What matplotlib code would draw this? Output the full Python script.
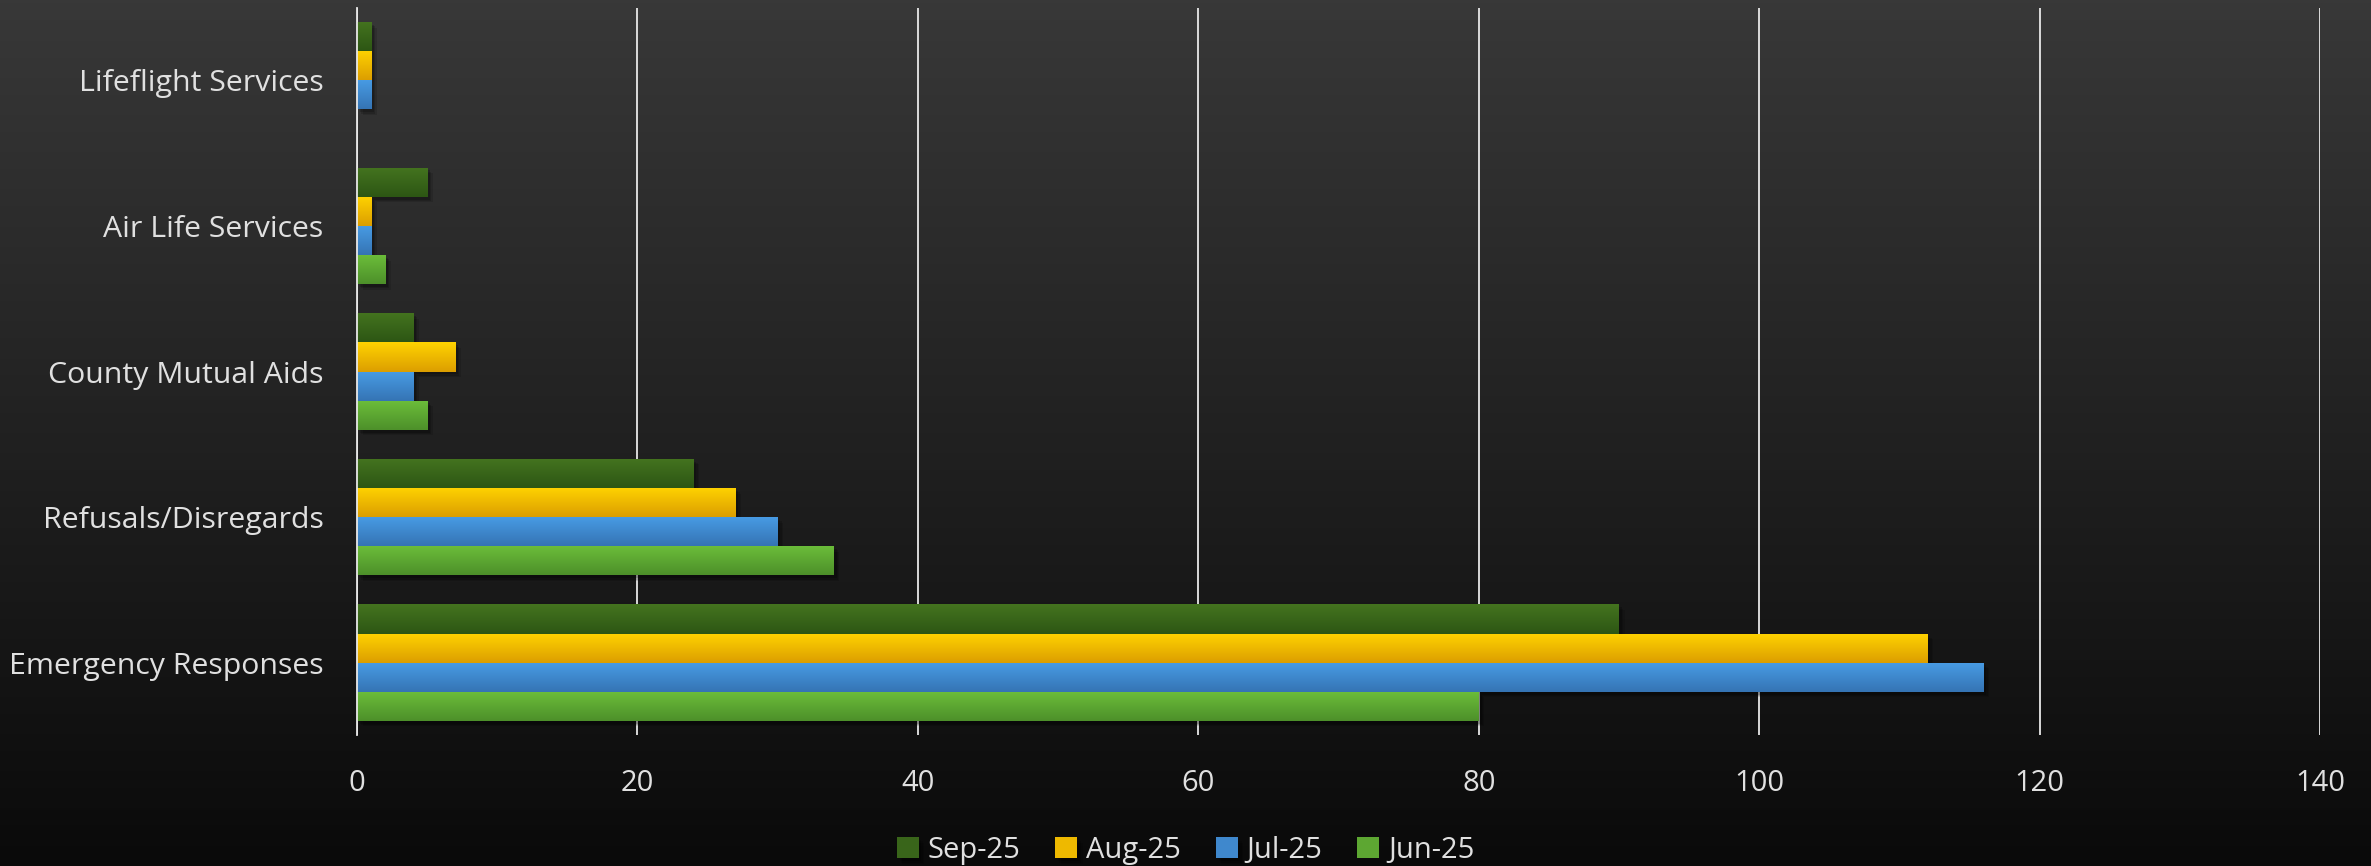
import numpy as np
import matplotlib
matplotlib.use("Agg")
import matplotlib.pyplot as plt
import matplotlib.patheffects as pe
from matplotlib.colors import to_rgb

# Categories (top to bottom) and monthly counts
categories = ["Lifeflight Services", "Air Life Services", "County Mutual Aids",
              "Refusals/Disregards", "Emergency Responses"]
series_names = ["Sep-25", "Aug-25", "Jul-25", "Jun-25"]
sep_25 = [1, 5, 4, 24, 90]
aug_25 = [1, 1, 7, 27, 112]
jul_25 = [1, 1, 4, 30, 116]
jun_25 = [0, 2, 5, 34, 80]
x_ticks = [0, 20, 40, 60, 80, 100, 120, 140]

series_values = [sep_25, aug_25, jul_25, jun_25]
# (top colour, bottom colour) of each bar's vertical gradient
series_colors = [("#44741f", "#2d5614"),
                 ("#ffd300", "#dc9e00"),
                 ("#489ce5", "#3574b4"),
                 ("#6cbe3a", "#4d902a")]

plt.rcParams["font.family"] = ["Open Sans", "DejaVu Sans"]
text_color = "#e0e0e0"

fig = plt.figure(figsize=(23.71, 8.66), dpi=100)

# Dark vertical gradient backdrop
bg = fig.add_axes([0, 0, 1, 1], zorder=-10)
bg.set_axis_off()
top_c = np.array(to_rgb("#383838"))
bot_c = np.array(to_rgb("#0a0a0a"))
t = np.linspace(0, 1, 256)[:, None]
grad = (top_c[None, :] * (1 - t) + bot_c[None, :] * t)[:, None, :]
bg.imshow(grad, aspect="auto", extent=(0, 1, 0, 1), origin="upper")
bg.set_xlim(0, 1)
bg.set_ylim(0, 1)

ax = fig.add_axes([0.1506, 0.1507, 0.9785 - 0.1506, 0.9913 - 0.1507])
ax.patch.set_alpha(0)

n_cat = len(categories)
ypos = np.arange(n_cat)[::-1].astype(float)  # first category at the top
h = 0.2
offsets = [0.3, 0.1, -0.1, -0.3]

# soft drop shadow built from a few stacked translucent offsets
shadow = [pe.SimplePatchShadow(offset=(4, -4), alpha=0.12, shadow_rgbFace="black"),
          pe.SimplePatchShadow(offset=(3, -3), alpha=0.15, shadow_rgbFace="black"),
          pe.SimplePatchShadow(offset=(2, -2), alpha=0.18, shadow_rgbFace="black"),
          pe.Normal()]

for vals, (c_top, c_bot), off, name in zip(series_values, series_colors, offsets, series_names):
    bars = ax.barh(ypos + off, vals, height=h, color=c_bot, label=name,
                   zorder=3, linewidth=0)
    ct = np.array(to_rgb(c_top))
    cb = np.array(to_rgb(c_bot))
    g = np.linspace(0, 1, 64)[:, None]
    img = (ct[None, :] * (1 - g) + cb[None, :] * g)[:, None, :]
    for b in bars:
        if b.get_width() <= 0:
            continue
        b.set_path_effects(shadow)
        x0, y0 = b.get_x(), b.get_y()
        x1, y1 = x0 + b.get_width(), y0 + b.get_height()
        im = ax.imshow(img, extent=(x0, x1, y0, y1), origin="upper",
                       aspect="auto", zorder=4, interpolation="bilinear")
        im.set_clip_path(b)

ax.set_xlim(0, 140)
ax.set_ylim(-0.5, n_cat - 0.5)
ax.set_xticks(x_ticks)
ax.set_xticklabels([str(v) for v in x_ticks])
ax.set_yticks(ypos)
ax.set_yticklabels(categories)

ax.grid(axis="x", color="#e8e8e8", linewidth=1.3, zorder=1)
ax.set_axisbelow(True)
for side in ["top", "right", "bottom"]:
    ax.spines[side].set_visible(False)
ax.spines["left"].set_color("#e8e8e8")
ax.spines["left"].set_linewidth(1.3)
ax.spines["left"].set_zorder(5)

ax.tick_params(axis="x", length=0, pad=24, labelsize=21, labelcolor=text_color)
ax.tick_params(axis="y", length=0, pad=24, labelsize=21.8, labelcolor=text_color)

handles, labels = ax.get_legend_handles_labels()
leg = fig.legend(handles, labels, loc="center", bbox_to_anchor=(0.5, 0.018),
                 ncol=4, frameon=False, fontsize=21, labelcolor=text_color,
                 handlelength=0.75, handleheight=0.75, handletextpad=0.3,
                 columnspacing=1.2)
for hnd, (c_top, c_bot) in zip(leg.legend_handles, series_colors):
    mid = (np.array(to_rgb(c_top)) + np.array(to_rgb(c_bot))) / 2
    hnd.set_color(mid)

fig.savefig("out.png", dpi=100)
